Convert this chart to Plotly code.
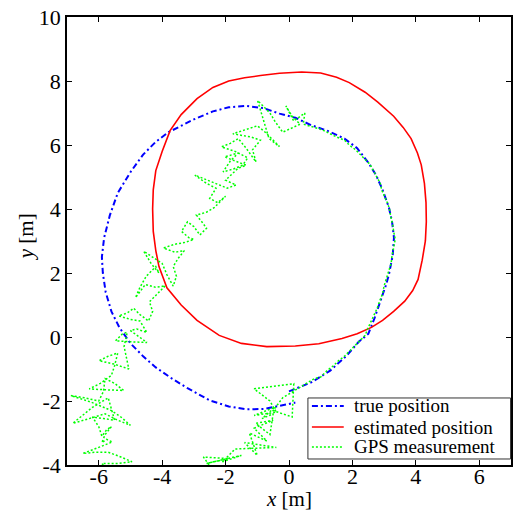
import plotly.graph_objects as go

# True vehicle trajectory (m)
true_x = [0.0, 0.7, 1.3, 1.8, 2.2, 2.5, 2.7, 2.85, 3.05, 3.15, 3.27, 3.31, 3.25, 3.15,
          2.95, 2.75, 2.5, 2.15, 1.75, 1.2, 0.7, 0.2, -0.3, -0.8, -1.35, -1.9, -2.4,
          -3.0, -3.5, -3.8, -4.2, -4.6, -5.0, -5.4, -5.65, -5.83, -5.9, -5.87, -5.78,
          -5.6, -5.35, -5.0, -4.6, -4.2, -3.75, -3.2, -2.5, -1.9, -1.35, -0.8, -0.3, 0.2]
true_y = [-1.70, -1.42, -1.05, -0.6, -0.15, 0.1, 0.6, 1.0, 1.6, 1.95, 2.55, 3.1, 3.6, 4.05,
          4.6, 5.05, 5.45, 5.9, 6.2, 6.45, 6.62, 6.85, 6.98, 7.15, 7.22, 7.18, 7.05,
          6.8, 6.55, 6.4, 6.1, 5.7, 5.15, 4.5, 3.8, 3.1, 2.5, 2.0, 1.4,
          0.8, 0.3, -0.2, -0.6, -0.95, -1.26, -1.6, -1.98, -2.17, -2.26, -2.25, -2.15, -2.05]

# Filter estimate (m)
est_x = [-0.9, -0.3, 0.4, 1.0, 1.5, 1.9, 2.4, 2.8, 3.3, 3.6, 3.85, 4.05, 4.17, 4.27, 4.32,
         4.33, 4.3, 4.2, 4.07, 3.9, 3.65, 3.3, 2.95, 2.6, 2.15, 1.67, 0.94, 0.2, -0.7,
         -1.5, -2.2, -2.9, -3.4, -3.85, -4.1, -4.2, -4.28, -4.3, -4.28, -4.2, -4.0,
         -3.75, -3.4, -2.9, -2.4, -1.9, -1.4, -0.9]
est_y = [8.17, 8.24, 8.28, 8.25, 8.12, 7.95, 7.65, 7.34, 6.9, 6.55, 6.2, 5.75, 5.38, 4.8, 4.2,
         3.6, 3.0, 2.4, 1.8, 1.45, 1.12, 0.8, 0.52, 0.3, 0.1, -0.05, -0.21, -0.28, -0.3,
         -0.2, 0.05, 0.52, 1.0, 1.54, 2.2, 2.7, 3.3, 4.0, 4.6, 5.2, 5.8,
         6.45, 6.95, 7.45, 7.8, 8.0, 8.1, 8.17]

# GPS fixes (m), as (x, y) pairs in time order
gps_pts = [
    # converging from the bottom
    (-2.3, -4.3), (-2.7, -3.75), (-1.9, -3.8), (-2.6, -3.95), (-1.5, -3.7), (-2.1, -3.9),
    (-1.7, -3.5), (-0.4, -3.45), (-1.4, -3.3), (-1.0, -3.7), (-1.25, -3.0), (-0.7, -3.25),
    (-1.1, -2.85), (-0.5, -2.6), (-1.05, -2.7), (-0.6, -3.05), (-0.5, -2.4), (-0.85, -2.55),
    (-0.45, -2.2), (-1.1, -2.45), (-0.4, -2.35), (-0.6, -2.0), (-1.1, -1.62), (0.15, -1.46),
    (0.1, -2.5), (-0.5, -2.3), (-0.2, -1.9), (0.05, -1.75), (0.4, -1.55),
    # tracking the right-hand arc
    (0.8, -1.3), (1.0, -1.25), (1.2, -1.05), (1.4, -0.9), (1.55, -0.75), (1.75, -0.6),
    (1.9, -0.45), (2.05, -0.3), (2.2, -0.15), (2.4, 0.05), (2.5, 0.3), (2.6, 0.5),
    (2.7, 0.7), (2.78, 0.9), (2.85, 1.1), (2.95, 1.35), (3.0, 1.6), (3.08, 1.85),
    (3.15, 2.05), (3.22, 2.3), (3.25, 2.55), (3.3, 2.8), (3.35, 3.05), (3.3, 3.3),
    (3.27, 3.5), (3.2, 3.8), (3.17, 4.0), (3.1, 4.2), (3.0, 4.45), (2.92, 4.6),
    (2.88, 4.8), (2.75, 5.05), (2.62, 5.25), (2.55, 5.4), (2.4, 5.55), (2.25, 5.7),
    (2.1, 5.85), (1.9, 6.0), (1.75, 6.15), (1.5, 6.25), (1.3, 6.35), (1.1, 6.45),
    (0.9, 6.52), (0.7, 6.58), (0.45, 6.65),
    # drifting away to the lower left
    (0.5, 7.0), (0.15, 6.75), (-0.1, 7.22), (0.1, 6.9), (0.35, 6.65), (-0.2, 6.4),
    (-0.45, 6.75), (-0.6, 7.0), (-0.99, 7.39), (-0.63, 6.2), (-0.3, 5.95), (-0.75, 6.4),
    (-1.0, 6.6), (-1.3, 6.5), (-1.77, 6.35), (-1.2, 6.25), (-0.9, 6.15), (-1.15, 5.85),
    (-1.04, 5.47), (-1.35, 5.9), (-1.6, 6.2), (-1.85, 6.05), (-2.13, 5.94), (-1.7, 5.8),
    (-1.3, 5.6), (-1.46, 5.37), (-1.75, 5.25), (-2.08, 5.16), (-1.85, 5.5), (-1.6, 5.75),
    (-2.03, 5.63), (-1.7, 5.5), (-1.35, 5.37), (-1.61, 5.27), (-1.85, 5.05), (-2.0, 4.9),
    (-1.67, 4.75), (-1.95, 4.65), (-2.19, 4.75), (-2.55, 4.9), (-2.97, 5.06), (-2.6, 4.8),
    (-2.3, 4.65), (-2.5, 4.33), (-2.25, 4.2), (-2.0, 4.4), (-2.35, 4.05), (-2.6, 3.9),
    (-2.92, 3.81), (-2.75, 3.6), (-2.6, 3.4), (-2.81, 3.19), (-3.0, 3.45), (-3.2, 3.6),
    (-3.39, 3.3), (-3.15, 3.1), (-3.0, 3.05), (-3.3, 2.95), (-3.6, 2.9), (-3.96, 2.78),
    (-3.6, 2.65), (-3.3, 2.7), (-3.5, 2.45), (-3.65, 2.2), (-3.55, 1.9), (-3.65, 1.59),
    (-3.85, 1.95), (-4.0, 2.3), (-4.3, 2.5), (-4.58, 2.68), (-4.35, 2.3), (-4.1, 2.0),
    (-4.2, 2.2), (-4.5, 1.9), (-4.7, 1.55), (-4.84, 1.23), (-4.53, 1.64), (-4.2, 1.55),
    (-3.9, 1.6), (-4.2, 1.3), (-4.4, 1.1), (-4.3, 0.8), (-4.43, 0.5), (-4.7, 0.7),
    (-4.9, 0.9), (-5.1, 0.75), (-5.37, 0.66), (-5.0, 0.55), (-4.7, 0.5), (-4.48, 0.14),
    (-4.8, 0.25), (-5.0, 0.2), (-4.7, 0.0), (-4.48, -0.17), (-5.0, -0.15), (-5.47, -0.12),
    (-5.25, 0.1), (-5.1, 0.15), (-5.2, -0.3), (-5.05, -1.0), (-5.5, -0.85), (-5.99, -0.74),
    (-5.7, -0.6), (-5.4, -0.5), (-5.5, -0.9), (-5.6, -1.2), (-5.95, -1.45), (-6.3, -1.62),
    (-5.8, -1.65), (-5.21, -1.67), (-5.5, -1.45), (-5.8, -1.3), (-5.85, -1.7), (-6.0, -2.0),
    (-6.45, -1.9), (-6.88, -1.83), (-6.2, -2.05), (-5.6, -2.3), (-5.3, -2.5), (-5.0, -2.76),
    (-5.4, -2.6), (-5.8, -2.4), (-6.3, -2.55), (-6.82, -2.7), (-6.2, -2.2), (-5.7, -1.9),
    (-5.6, -2.25), (-5.5, -2.6), (-5.85, -2.55), (-6.2, -2.5), (-6.0, -2.8), (-5.9, -3.1),
    (-5.75, -2.9), (-5.6, -2.8), (-5.8, -3.05), (-5.9, -3.3), (-5.75, -3.2), (-5.57, -3.28),
    (-6.0, -3.45), (-6.5, -3.64), (-6.1, -3.6), (-5.7, -3.6), (-5.3, -3.75), (-4.95, -3.9),
    (-5.4, -3.95), (-5.9, -3.95), (-5.75, -4.15), (-5.6, -4.3),
]
gps_x = [p[0] for p in gps_pts]
gps_y = [p[1] for p in gps_pts]

tick_vals_x = [-6, -4, -2, 0, 2, 4, 6]
tick_text_x = ["-6", "-4", "-2", "0", "2", "4", "6"]
tick_vals_y = [-4, -2, 0, 2, 4, 6, 8, 10]
tick_text_y = ["-4", "-2", "0", "2", "4", "6", "8", "10"]

series_names = ["true position", "estimated position", "GPS measurement"]
series_colors = ["#0000ff", "#ff0000", "#00ff00"]
series_dash = ["6px,3px,2px,3px", "solid", "2px,2px"]
series_width = [2, 1.6, 1.5]

serif = "Liberation Serif"

fig = go.Figure()
for name, xs, ys, col, dash, w in zip(series_names,
                                      [true_x, est_x, gps_x], [true_y, est_y, gps_y],
                                      series_colors, series_dash, series_width):
    fig.add_trace(go.Scatter(x=xs, y=ys, mode="lines", name=name, showlegend=False,
                             line=dict(color=col, width=w, dash=dash)))

# Legend box in the lower-right corner of the axes (paper coordinates)
box_x0, box_x1, box_y0, box_y1 = 0.5426, 0.999, 0.0134, 0.1496
row_y = [0.1317, 0.0848, 0.0402]
sample_x0, sample_x1, text_x = 0.5516, 0.6233, 0.6413

shapes = [dict(type="rect", xref="paper", yref="paper", x0=box_x0, x1=box_x1,
               y0=box_y0, y1=box_y1, fillcolor="white",
               line=dict(color="#333333", width=1), layer="above")]
annotations = []
for name, col, dash, w, ry in zip(series_names, series_colors, series_dash,
                                  series_width, row_y):
    shapes.append(dict(type="line", xref="paper", yref="paper", x0=sample_x0,
                       x1=sample_x1, y0=ry, y1=ry, layer="above",
                       line=dict(color=col, width=w, dash=dash)))
    annotations.append(dict(xref="paper", yref="paper", x=text_x, y=ry, text=name,
                            showarrow=False, xanchor="left", yanchor="middle",
                            font=dict(family=serif, size=19, color="black")))

# Axis titles
annotations.append(dict(xref="paper", yref="paper", x=0.5, y=-0.077, text="<i>x</i> [m]",
                        showarrow=False, xanchor="center", yanchor="middle",
                        font=dict(family=serif, size=21, color="black")))
annotations.append(dict(xref="paper", yref="paper", x=-0.093, y=0.51, text="<i>y</i> [m]",
                        showarrow=False, xanchor="center", yanchor="middle", textangle=-90,
                        font=dict(family=serif, size=21, color="black")))

axis_common = dict(showgrid=False, zeroline=False, showline=True, linecolor="black",
                   linewidth=1.5, mirror="ticks", ticks="inside", ticklen=5,
                   tickwidth=1, tickcolor="black",
                   tickfont=dict(family=serif, size=22, color="black"))

fig.update_layout(
    width=515, height=515, autosize=False,
    margin=dict(l=67, r=2, t=17, b=50),
    paper_bgcolor="white", plot_bgcolor="white",
    font=dict(family=serif, color="black"),
    showlegend=False,
    xaxis=dict(range=[-7, 7], tickvals=tick_vals_x, ticktext=tick_text_x,
               ticklabelstandoff=-9, **axis_common),
    yaxis=dict(range=[-4, 10], tickvals=tick_vals_y, ticktext=tick_text_y, **axis_common),
    shapes=shapes,
    annotations=annotations,
)

fig.write_html("out.html")
